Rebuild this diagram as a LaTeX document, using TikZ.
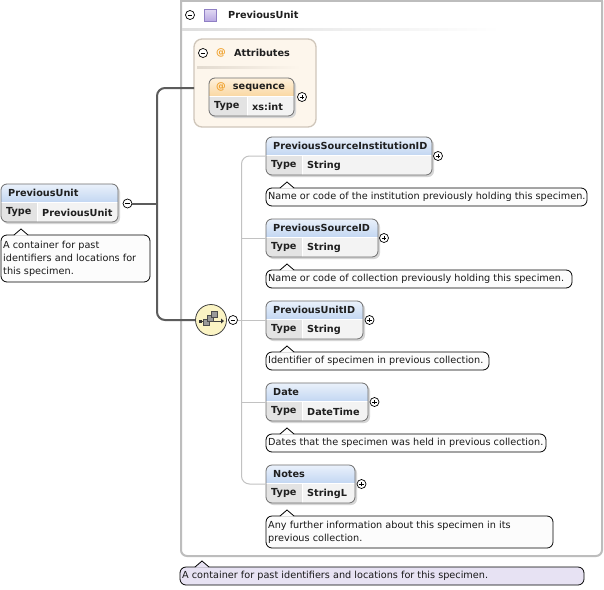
\documentclass[tikz,border=0pt]{standalone}
\usepackage{fontspec}
\setmainfont{DejaVu Sans}
\usetikzlibrary{fit}
\definecolor{hdtop}{HTML}{EAF1FB}
\definecolor{hdbot}{HTML}{C3D7F2}
\definecolor{ortop}{HTML}{FEF1DC}
\definecolor{orbot}{HTML}{FAD8A4}
\definecolor{rowc}{HTML}{F3F3F3}
\definecolor{typec}{HTML}{E3E3E3}
\definecolor{boxb}{HTML}{6E6E6E}
\definecolor{attrf}{HTML}{FDF6EC}
\definecolor{attrb}{HTML}{CFC6BA}
\definecolor{attrl}{HTML}{E2DACF}
\definecolor{framec}{HTML}{BDBDBD}
\definecolor{childc}{HTML}{C2C2C2}
\definecolor{rootc}{HTML}{5C5C5C}
\definecolor{seqyel}{HTML}{FBF4C4}
\definecolor{lav}{HTML}{E7E2F3}
\definecolor{purpt}{HTML}{E2DAF4}
\definecolor{purpbot}{HTML}{B9A9E2}
\definecolor{purpb}{HTML}{8F7FC4}
\definecolor{atc}{HTML}{F0A22E}
\definecolor{docf}{HTML}{FCFCFC}
\newcommand\btxt{\fontsize{9.7}{11}\selectfont\bfseries}
\newcommand\dtxt{\fontsize{9.7}{13}\selectfont}
\tikzset{
  x=1pt, y=-1pt,
  hd/.style={anchor=west, inner sep=0, font=\btxt, text=black!88},
  dtext/.style={anchor=west, inner sep=0, align=left, font=\dtxt, text=black!90},
  elnode/.style={draw=boxb, line width=0.8, rounded corners=6, inner sep=0},
  cellsep/.style={draw=white, line width=0.8},
  callnode/.style={draw=black, line width=0.8, rounded corners=6, inner sep=0},
  calline/.style={draw=black, line width=0.8},
  pm/.style={circle, draw=black, fill=white, line width=0.7, minimum size=9, inner sep=0},
  pmminus/.style={pm, path picture={\draw[line width=0.7] ([xshift=-2.3pt]path picture bounding box.center) -- ([xshift=2.3pt]path picture bounding box.center);}},
  pmplus/.style={pm, path picture={\draw[line width=0.7] ([xshift=-2.3pt]path picture bounding box.center) -- ([xshift=2.3pt]path picture bounding box.center) ([yshift=-2.3pt]path picture bounding box.center) -- ([yshift=2.3pt]path picture bounding box.center);}},
  seqc/.style={circle, draw=black!75, fill=seqyel, line width=0.8, minimum size=31, inner sep=0},
  purplesq/.style={draw=purpb, top color=purpt, bottom color=purpbot, minimum size=12, inner sep=0},
  attrbox/.style={draw=attrb, fill=attrf, line width=1.3, rounded corners=8, inner sep=0},
  frameline/.style={draw=framec, line width=2},
  childline/.style={draw=childc, line width=1},
  rootline/.style={draw=rootc, line width=2},
}
% name, x1, yc, x2, divider offset, title, type, header top colour, header bottom colour
\newcommand\elbox[9]{%
  \fill[black!16, rounded corners=6] (#2+1.5,#3-17) rectangle (#4+2,#3+21);
  \begin{scope}
    \clip[rounded corners=6] (#2,#3-19) rectangle (#4,#3+19);
    \shade[top color=#8, bottom color=#9] (#2,#3-19) rectangle (#4,#3-1);
    \fill[rowc] (#2,#3-1) rectangle (#4,#3+19);
    \fill[typec] (#2,#3-1) rectangle (#2+#5,#3+19);
  \end{scope}
  \draw[cellsep] (#2,#3-1) -- (#4,#3-1) (#2+#5,#3-1) -- (#2+#5,#3+19);
  \node[elnode, fit={(#2,#3-19) (#4,#3+19)}] (#1) {};
  \node[hd] (#1-title) at (#2+7,#3-10) {#6};
  \node[hd] (#1-tl) at (#2+5,#3+9.5) {Type};
  \node[hd] (#1-tv) at (#2+#5+5,#3+9.5) {#7};
}
% name, x1, y1, x2, y2, fill, pointer offset, text
\newcommand\callout[8]{%
  \node[callnode, fill=#6, fit={(#2,#3) (#4,#5)}] (#1) {};
  \fill[#6] (#2+#7-7,#3+0.7) -- (#2+#7,#3-6) -- (#2+#7+7,#3+0.7) -- cycle;
  \draw[calline] (#2+#7-7,#3) -- (#2+#7,#3-6) -- (#2+#7+7,#3);
  \node[dtext] (#1-text) at (#2+2,{(#3+#5)/2}) {#8};
}
\begin{document}
\begin{tikzpicture}
\useasboundingbox[fill=white] (0,0) rectangle (604,589);

% outer frame of PreviousUnit
\draw[frameline, rounded corners=6] (181,1) -- (181,556) -- (602,556) -- (602,1);
\draw[frameline] (180,1) -- (603,1);
\node[pmminus] (fminus) at (190,15) {};
\node[purplesq] (fsq) at (210.5,15) {};
\node[hd] (ftitle) at (228,15) {PreviousUnit};
\shade[left color=black!13, right color=white] (182,28) rectangle (500,30);

% attributes
\node[attrbox, fit={(194,39) (316,127)}] (attrs) {};
\node[pmminus] (aminus) at (203,53) {};
\node[hd, text=atc] (aat) at (216,53) {@};
\node[hd] (atitle) at (234,53) {Attributes};
\shade[left color=attrl, right color=attrf] (197,66) rectangle (300,68);
\elbox{seq}{209}{97}{294}{38}{\textcolor{atc}{@}\hspace{7pt}sequence}{xs:int}{ortop}{orbot}
\node[pmplus] (seqplus) at (302,97) {};

% root element
\elbox{root}{1}{203}{118}{36}{PreviousUnit}{PreviousUnit}{hdtop}{hdbot}
\node[pmminus] (rootminus) at (127.5,203.5) {};
\callout{rootdoc}{1}{235}{150}{282}{docf}{20}{A container for past\\identifiers and locations for\\this specimen.}

% sequence compositor
\node[seqc] (seqicon) at (211,320) {};
\draw[black!75, line width=0.8] (199.5,321) -- (222,321);
\fill[black!80] (198.5,319.5) rectangle (201.5,322.5);
\fill[black!80] (221,318.5) -- (224,321) -- (221,323.5) -- cycle;
\draw[draw=black!70, fill=black!40, line width=0.6] (203.5,319.5) rectangle (209.5,325.5);
\draw[draw=black!70, fill=black!40, line width=0.6] (207.5,315.5) rectangle (213.5,321.5);
\draw[draw=black!70, fill=black!40, line width=0.6] (211.5,311.5) rectangle (217.5,317.5);
\node[pmminus] (seqminus) at (233,320) {};

% root connectors
\coordinate (attrin) at (194,88);
\coordinate (jr) at (157,203.5);
\draw[rootline] (rootminus) -- (jr);
\draw[rootline, rounded corners=8] (attrin) -| (jr) |- (seqicon);

% children
\elbox{c1}{266}{156}{432}{36}{PreviousSourceInstitutionID}{String}{hdtop}{hdbot}
\node[pmplus] (c1plus) at (438,156) {};
\callout{c1doc}{266}{188}{587}{206}{docf}{21}{Name or code of the institution previously holding this specimen.}

\elbox{c2}{266}{238}{378}{36}{PreviousSourceID}{String}{hdtop}{hdbot}
\node[pmplus] (c2plus) at (384,238) {};
\callout{c2doc}{266}{270}{572}{288}{docf}{21}{Name or code of collection previously holding this specimen.}

\elbox{c3}{266}{320}{363}{36}{PreviousUnitID}{String}{hdtop}{hdbot}
\node[pmplus] (c3plus) at (369.5,320) {};
\callout{c3doc}{266}{352}{489}{370}{docf}{21}{Identifier of specimen in previous collection.}

\elbox{c4}{266}{402}{368}{36}{Date}{DateTime}{hdtop}{hdbot}
\node[pmplus] (c4plus) at (374.5,402) {};
\callout{c4doc}{266}{434}{546}{452}{docf}{21}{Dates that the specimen was held in previous collection.}

\elbox{c5}{266}{484}{355}{36}{Notes}{StringL}{hdtop}{hdbot}
\node[pmplus] (c5plus) at (361.5,484) {};
\callout{c5doc}{266}{516}{553}{548}{docf}{21}{Any further information about this specimen in its\\previous collection.}

\coordinate (cv) at (241.5,320);
\draw[childline] (seqminus) -- (c3);
\draw[childline, rounded corners=8] (cv) |- (c1);
\draw[childline] (cv) |- (c2);
\draw[childline] (cv) |- (c4);
\draw[childline, rounded corners=8] (cv) |- (c5);

% documentation of PreviousUnit type
\callout{pudoc}{180}{567}{584}{585}{lav}{22}{A container for past identifiers and locations for this specimen.}
\end{tikzpicture}
\end{document}
